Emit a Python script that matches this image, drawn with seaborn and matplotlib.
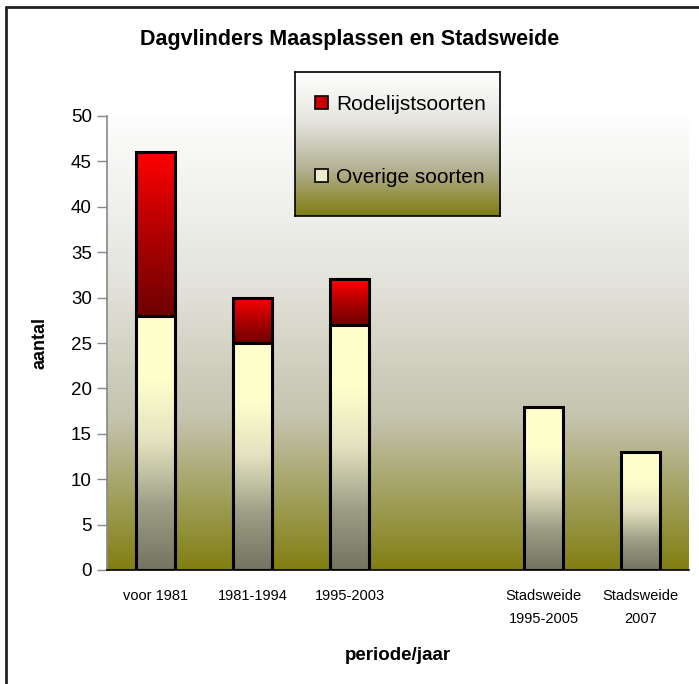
import numpy as np
import pandas as pd
import matplotlib
matplotlib.use("Agg")
import matplotlib.pyplot as plt
import seaborn as sns
from matplotlib.colors import LinearSegmentedColormap
from matplotlib.patches import Rectangle
from matplotlib.lines import Line2D

categories = ["voor 1981", "1981-1994", "1995-2003", " ", "Stadsweide\n1995-2005", "Stadsweide\n2007"]
overige = [28, 25, 27, np.nan, 18, 13]
rodelijst = [18, 5, 5, 0, 0, 0]
series_names = ["Rodelijstsoorten", "Overige soorten"]
title = "Dagvlinders Maasplassen en Stadsweide"
xlabel = "periode/jaar"
ylabel = "aantal"
yticks = [0, 5, 10, 15, 20, 25, 30, 35, 40, 45, 50]

sns.set_theme(style="white")
plt.rcParams['font.family'] = ['Liberation Sans', 'DejaVu Sans']
plt.rcParams['text.color'] = 'black'
plt.rcParams['xtick.color'] = 'black'
plt.rcParams['ytick.color'] = 'black'
plt.rcParams['axes.labelcolor'] = 'black'

W, H = 699, 684
fig = plt.figure(figsize=(W / 100, H / 100), dpi=100)
fig.patch.set_facecolor("white")

# outer frame (left and top visible)
fig.add_artist(Line2D([6 / W, 6 / W], [0, 1 - 7 / H], color="#222222", lw=2, transform=fig.transFigure))
fig.add_artist(Line2D([6 / W, 1], [1 - 7 / H, 1 - 7 / H], color="#222222", lw=2, transform=fig.transFigure))

left, right, top, bottom = 107, 689, 116, 570
ax = fig.add_axes([left / W, 1 - bottom / H, (right - left) / W, (bottom - top) / H])

df = pd.DataFrame({
    "periode": categories,
    "overige": overige,
    "totaal": [o + r if not np.isnan(o) else np.nan for o, r in zip(overige, rodelijst)],
})

sns.barplot(data=df, x="periode", y="totaal", order=categories, color="red", width=0.41,
            ax=ax, zorder=3, edgecolor="black", linewidth=2.2)
n_tot = len(ax.patches)
sns.barplot(data=df, x="periode", y="overige", order=categories, color="yellow", width=0.41,
            ax=ax, zorder=5, edgecolor="black", linewidth=2.2)

ax.set_ylim(0, 50)
ax.set_xlim(-0.5, len(categories) - 0.5)

# background gradient
bg_cmap = LinearSegmentedColormap.from_list("bg", ["#817f12", "#c4c3ae", "#e6e6e0", "#fdfdfd"])
grad = np.linspace(0, 1, 256).reshape(-1, 1)
ax.imshow(grad, aspect="auto", cmap=bg_cmap, origin="lower",
          extent=[-0.5, len(categories) - 0.5, 0, 50], zorder=0)

red_cmap = LinearSegmentedColormap.from_list("red", ["#6e0000", "#b00000", "#ff0000"])
ov_cmap = LinearSegmentedColormap.from_list("ov", ["#737360", "#9e9e86", "#e2e2c0", "#ffffcc", "#ffffcc"])

patches = list(ax.patches)
tot_patches = patches[:n_tot]
ov_patches = patches[n_tot:]

for p in tot_patches:
    h = p.get_height()
    if not np.isfinite(h) or h == 0:
        continue
    x0 = p.get_x(); w = p.get_width()
    idx = int(round(x0 + w / 2))
    base = overige[idx]
    if rodelijst[idx] <= 0:
        p.set_visible(False)
        continue
    im = ax.imshow(grad, aspect="auto", cmap=red_cmap, origin="lower",
                   extent=[x0, x0 + w, base, h], zorder=2.5)
    im.set_clip_path(p)
    p.set_facecolor("none")

for p in ov_patches:
    h = p.get_height()
    if not np.isfinite(h) or h == 0:
        continue
    x0 = p.get_x(); w = p.get_width()
    im = ax.imshow(grad, aspect="auto", cmap=ov_cmap, origin="lower",
                   extent=[x0, x0 + w, 0, h], zorder=4)
    im.set_clip_path(p)
    p.set_facecolor("none")

ax.set_ylim(0, 50)
ax.set_xlim(-0.5, len(categories) - 0.5)
ax.set_yticks(yticks)
ax.set_yticklabels([str(v) for v in yticks], fontsize=13.5)
ax.tick_params(axis="y", which="both", direction="out", length=7, width=1, color="#888888",
               left=True, pad=4, labelcolor="black")
ax.tick_params(axis="x", length=0, labelsize=10.5, pad=14, labelcolor="black")
for lbl in ax.get_xticklabels():
    lbl.set_linespacing(1.75)

for s in ["top", "right"]:
    ax.spines[s].set_visible(False)
ax.spines["left"].set_color("#888888")
ax.spines["left"].set_linewidth(1.2)
ax.spines["bottom"].set_color("black")
ax.spines["bottom"].set_linewidth(1.2)

ax.set_xlabel("")
ax.set_ylabel("")
fig.text(40 / W, 1 - 343 / H, ylabel, rotation=90, ha="center", va="center",
         fontsize=13, fontweight="bold", color="black")
fig.text(398 / W, 1 - 655 / H, xlabel, ha="center", va="center",
         fontsize=13.5, fontweight="bold", color="black")
fig.text(350 / W, 1 - 40 / H, title, ha="center", va="center",
         fontsize=15.5, fontweight="bold", color="black")

# legend box with gradient
lx0, lx1, ly0, ly1 = 295, 500, 72, 216
lax = fig.add_axes([lx0 / W, 1 - ly1 / H, (lx1 - lx0) / W, (ly1 - ly0) / H])
lg_cmap = LinearSegmentedColormap.from_list("lg", ["#7f7d10", "#b4b296", "#e6e6e0", "#ffffff"])
lax.imshow(grad, aspect="auto", cmap=lg_cmap, origin="lower", extent=[0, 1, 0, 1])
lax.set_xticks([]); lax.set_yticks([])
for s in lax.spines.values():
    s.set_color("black"); s.set_linewidth(1.2)

handles = [Rectangle((0, 0), 1, 1, facecolor="#cc0000", edgecolor="black", linewidth=1.2),
           Rectangle((0, 0), 1, 1, facecolor="#ececcc", edgecolor="black", linewidth=1.2)]
leg = fig.legend(handles, series_names, loc="center",
                 bbox_to_anchor=((lx0 + lx1) / 2 / W + 3 / W, 1 - 141 / H),
                 frameon=False, fontsize=15, handlelength=0.6, handleheight=0.6, handletextpad=0.4,
                 labelspacing=2.6)
for t in leg.get_texts():
    t.set_color("black")

fig.savefig("out.png", dpi=100)
